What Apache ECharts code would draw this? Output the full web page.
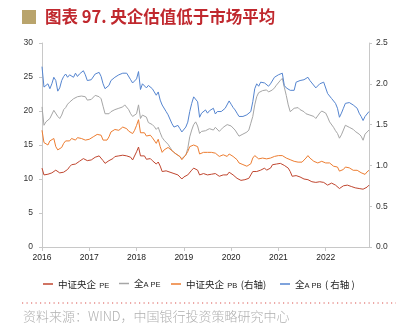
<!DOCTYPE html>
<html>
<head>
<meta charset="utf-8">
<script src="https://cdn.jsdelivr.net/npm/echarts@6/dist/echarts.min.js"></script>
<style>
html,body{margin:0;padding:0;background:#fff;}
#c{width:413px;height:330px;}
</style>
</head>
<body>
<div id="c"></div>
<script>
// semi-monthly observation dates (1st and 16th of each month), 2016-01 .. 2022-12
const dates = [];
for (let y = 2016; y <= 2022; y++) {
  for (let m = 1; m <= 12; m++) {
    const mm = (m < 10 ? '0' : '') + m;
    dates.push(y + '-' + mm + '-01');
    dates.push(y + '-' + mm + '-16');
  }
}
dates.length = 167; // last date 2022-12-01

const yearLabels = ['2016','2017','2018','2019','2020','2021','2022'];
const leftTicks = [0, 5, 10, 15, 20, 25, 30];
const rightTicks = [0, 0.5, 1.0, 1.5, 2.0, 2.5];

// 中证央企 PE (left axis)
const peSoe = [
11.6,10.6,10.5,10.7,10.8,10.9,11.1,11.3,11.1,10.9,10.8,11.0,11.2,11.4,11.8,12.1,12.3,12.2,12.4,12.6,12.7,13.0,12.8,12.7,
12.6,12.8,13.0,13.2,13.3,13.4,13.3,12.7,12.3,12.5,12.7,12.9,13.0,13.3,13.5,13.4,13.3,13.5,13.5,13.4,13.3,13.2,12.8,13.0,
14.0,14.7,13.4,13.5,13.4,12.9,13.0,13.0,12.7,12.5,12.2,12.5,11.9,11.1,11.3,11.2,11.1,11.0,10.8,10.8,10.7,10.6,10.4,10.0,
10.3,10.4,10.6,10.7,11.3,11.6,11.8,11.3,10.6,10.7,10.8,10.6,10.6,10.8,10.7,10.6,10.8,10.6,10.4,10.6,10.6,10.6,10.6,11.0,
10.9,10.6,10.4,10.1,9.9,9.8,9.6,9.9,10.0,10.1,10.6,11.1,11.3,11.1,11.1,11.3,11.4,11.6,11.3,11.4,11.6,12.1,12.3,12.2,
12.2,12.3,12.1,12.0,11.8,11.6,11.1,10.4,10.6,10.5,10.4,10.3,10.1,10.0,9.9,9.9,9.8,9.6,9.6,9.5,9.4,9.6,9.6,9.5,
9.4,9.1,9.3,9.4,9.3,9.1,8.9,8.6,8.8,9.0,9.1,9.1,9.0,8.9,8.9,8.7,8.6,8.6,8.5,8.5,8.4,8.8,9.1
];

// 全A PE (left axis)
const peAll = [
20.6,17.9,18.4,18.2,18.9,19.1,20.1,20.0,19.2,18.9,19.4,20.2,20.5,21.0,21.3,21.5,21.8,21.7,22.1,21.9,22.2,22.3,22.1,21.6,
21.5,21.7,21.9,22.3,22.4,22.1,21.8,20.7,19.6,19.4,19.6,19.9,20.1,20.2,20.3,20.4,20.5,20.6,20.9,20.7,20.2,19.6,19.2,19.2,
19.6,20.9,18.9,19.4,19.6,19.1,18.3,18.2,18.0,17.7,17.3,17.6,16.8,16.1,15.7,15.5,15.1,14.9,14.2,13.9,13.7,13.5,13.4,13.0,
13.2,13.5,14.5,16.2,17.2,18.0,18.4,17.8,16.7,17.0,17.2,17.1,17.0,17.4,17.3,17.2,17.6,17.4,17.0,17.3,17.6,17.8,18.0,18.0,
17.8,17.6,17.2,17.0,16.3,16.1,16.6,16.8,16.9,17.2,18.2,19.2,20.9,22.1,22.7,22.8,23.0,22.8,23.1,22.8,23.0,23.1,23.4,23.8,
24.0,24.5,24.8,23.5,22.3,20.9,19.9,20.0,20.4,20.6,20.5,20.2,20.1,19.9,19.6,19.5,19.4,19.2,19.2,18.9,19.1,19.7,20.0,20.1,
19.7,19.1,18.4,18.2,17.6,17.1,16.7,16.0,16.5,17.2,17.9,17.8,17.6,17.4,17.3,17.0,16.8,16.6,16.3,15.7,16.6,16.8,17.2
];

// 中证央企 PB (right axis)
const pbSoe = [
1.43,1.28,1.26,1.25,1.30,1.32,1.33,1.23,1.19,1.19,1.22,1.27,1.30,1.29,1.30,1.33,1.32,1.31,1.34,1.35,1.33,1.35,1.31,1.31,
1.32,1.34,1.35,1.37,1.38,1.39,1.37,1.31,1.29,1.31,1.35,1.41,1.43,1.44,1.45,1.43,1.45,1.47,1.47,1.45,1.42,1.41,1.39,1.43,
1.49,1.56,1.40,1.41,1.40,1.36,1.35,1.37,1.34,1.32,1.27,1.32,1.23,1.16,1.19,1.21,1.22,1.23,1.18,1.16,1.14,1.13,1.11,1.07,
1.09,1.13,1.17,1.23,1.25,1.25,1.27,1.23,1.14,1.14,1.16,1.17,1.16,1.15,1.16,1.17,1.15,1.14,1.11,1.12,1.13,1.12,1.11,1.14,
1.13,1.11,1.09,1.07,1.03,1.02,1.01,0.99,0.99,1.00,1.02,1.09,1.12,1.10,1.08,1.10,1.09,1.07,1.08,1.07,1.09,1.07,1.11,1.12,
1.12,1.13,1.12,1.11,1.09,1.08,1.07,1.07,1.05,1.05,1.04,1.05,1.04,1.06,1.09,1.12,1.09,1.07,1.05,1.03,1.03,1.04,1.05,1.04,
1.03,1.03,1.03,1.01,0.99,0.99,0.98,0.93,0.94,0.95,0.98,0.99,0.97,0.96,0.94,0.95,0.94,0.93,0.91,0.90,0.89,0.92,0.94
];

// 全A PB (right axis)
const pbAll = [
2.21,1.96,1.94,2.00,1.94,2.00,2.08,2.04,1.91,1.95,2.04,2.09,2.12,2.08,2.11,2.12,2.08,2.13,2.09,2.12,2.13,2.16,2.11,2.04,
2.04,2.05,2.06,2.12,2.13,2.14,2.09,2.00,1.94,1.95,1.98,2.04,2.06,2.08,2.09,2.11,2.12,2.13,2.15,2.13,2.11,2.05,2.01,2.02,
2.06,2.15,1.93,2.00,2.02,1.95,1.98,2.00,1.94,1.90,1.86,1.90,1.80,1.74,1.72,1.66,1.62,1.60,1.51,1.47,1.49,1.49,1.45,1.41,
1.43,1.47,1.53,1.66,1.76,1.84,1.86,1.78,1.59,1.64,1.66,1.68,1.64,1.67,1.68,1.70,1.63,1.66,1.64,1.66,1.68,1.70,1.72,1.79,
1.75,1.71,1.68,1.64,1.60,1.58,1.60,1.60,1.62,1.64,1.66,1.78,1.94,2.00,1.97,2.02,2.00,2.01,2.02,1.97,2.00,2.02,2.08,2.08,
2.11,2.12,2.13,1.98,1.95,1.94,1.92,1.91,1.92,2.02,2.04,2.04,2.02,2.05,2.06,2.08,2.04,2.01,2.00,1.95,1.96,2.00,2.02,2.02,
2.00,1.88,1.86,1.82,1.82,1.76,1.70,1.59,1.64,1.70,1.76,1.78,1.77,1.75,1.74,1.76,1.70,1.64,1.60,1.55,1.60,1.60,1.66
];

const names = ['中证央企 PE', '全A PE', '中证央企 PB (右轴)', '全A PB (右轴)'];
const colors = ['#c0462f', '#a6a6a6', '#ed7d31', '#5585d0'];

const isYearStart = (idx, val) => val.slice(5) === '01-01' && yearLabels.indexOf(val.slice(0, 4)) >= 0;

const cjk = '"Noto Sans CJK SC", "Noto Sans", sans-serif';
const lat = '"Liberation Sans", Arial, sans-serif';
const rich = {
  c: { fontFamily: cjk, fontSize: 9.5, color: '#222', lineHeight: 13 },
  e: { fontFamily: lat, fontSize: 7.5, color: '#222', lineHeight: 9, padding: [3, 0, 0, 0] }
};
const legendFmt = [
  '{c|中证央企} {e|PE}',
  '{c|全}{e|A PE}',
  '{c|中证央企} {e|PB} {c|(右轴)}',
  '{c|全}{e|A PB} {c|( 右轴 )}'
];
const legendLeft = [43, 119, 171, 280];

const chart = echarts.init(document.getElementById('c'), null, { renderer: 'canvas' });
chart.setOption({
  animation: false,
  backgroundColor: '#ffffff',
  grid: { left: 42, right: 44, top: 43, bottom: 83 },
  legend: names.map((n, k) => ({
    data: [n],
    left: legendLeft[k],
    top: 278,
    icon: 'rect',
    itemWidth: 10,
    itemHeight: 1.5,
    itemGap: 0,
    padding: 0,
    selectedMode: false,
    formatter: () => legendFmt[k],
    textStyle: { rich: rich }
  })),
  xAxis: {
    type: 'category',
    data: dates,
    boundaryGap: false,
    axisLine: { lineStyle: { color: '#c8c8c8', width: 1 } },
    axisTick: { show: true, interval: isYearStart, length: 4, lineStyle: { color: '#c8c8c8' } },
    axisLabel: {
      interval: isYearStart,
      formatter: v => v.slice(0, 4),
      fontFamily: lat, fontSize: 8.5, color: '#222', margin: 6
    },
    splitLine: { show: false }
  },
  yAxis: [
    {
      type: 'value', min: leftTicks[0], max: leftTicks[leftTicks.length - 1], interval: 5,
      axisLine: { show: true, lineStyle: { color: '#c8c8c8' } },
      axisTick: { show: true, length: 3, lineStyle: { color: '#c8c8c8' } },
      axisLabel: { fontFamily: lat, fontSize: 8.5, color: '#333', margin: 9 },
      splitLine: { show: false }
    },
    {
      type: 'value', min: rightTicks[0], max: rightTicks[rightTicks.length - 1], interval: 0.5,
      position: 'right',
      axisLine: { show: true, lineStyle: { color: '#c8c8c8' } },
      axisTick: { show: true, length: 3, lineStyle: { color: '#c8c8c8' } },
      axisLabel: { fontFamily: lat, fontSize: 8.5, color: '#333', margin: 7, formatter: v => v.toFixed(1) },
      splitLine: { show: false }
    }
  ],
  series: [
    { name: names[0], type: 'line', yAxisIndex: 0, data: peSoe },
    { name: names[1], type: 'line', yAxisIndex: 0, data: peAll },
    { name: names[2], type: 'line', yAxisIndex: 1, data: pbSoe },
    { name: names[3], type: 'line', yAxisIndex: 1, data: pbAll }
  ].map((s, k) => Object.assign(s, {
    showSymbol: false,
    symbol: 'none',
    color: colors[k],
    lineStyle: { color: colors[k], width: 1 },
    emphasis: { disabled: true }
  })),
  graphic: [
    { type: 'rect', left: 22, top: 10, shape: { width: 14, height: 14 }, style: { fill: '#b9a46c' } },
    { type: 'text', left: 45, top: 8, style: {
        text: '图表 97. 央企估值低于市场平均',
        font: 'bold 16.5px "Noto Sans CJK SC", sans-serif', fill: '#c0282e' } },
    { type: 'line', shape: { x1: 22, y1: 303, x2: 396, y2: 303 },
      style: { stroke: '#d9534f', lineWidth: 1.2, lineDash: [1.2, 3.3] } },
    { type: 'text', left: 23, top: 310, style: {
        text: '资料来源：WIND，中国银行投资策略研究中心',
        font: '300 13px "Noto Sans CJK SC", sans-serif', fill: '#b0b0b0' } }
  ]
});
</script>
</body>
</html>
